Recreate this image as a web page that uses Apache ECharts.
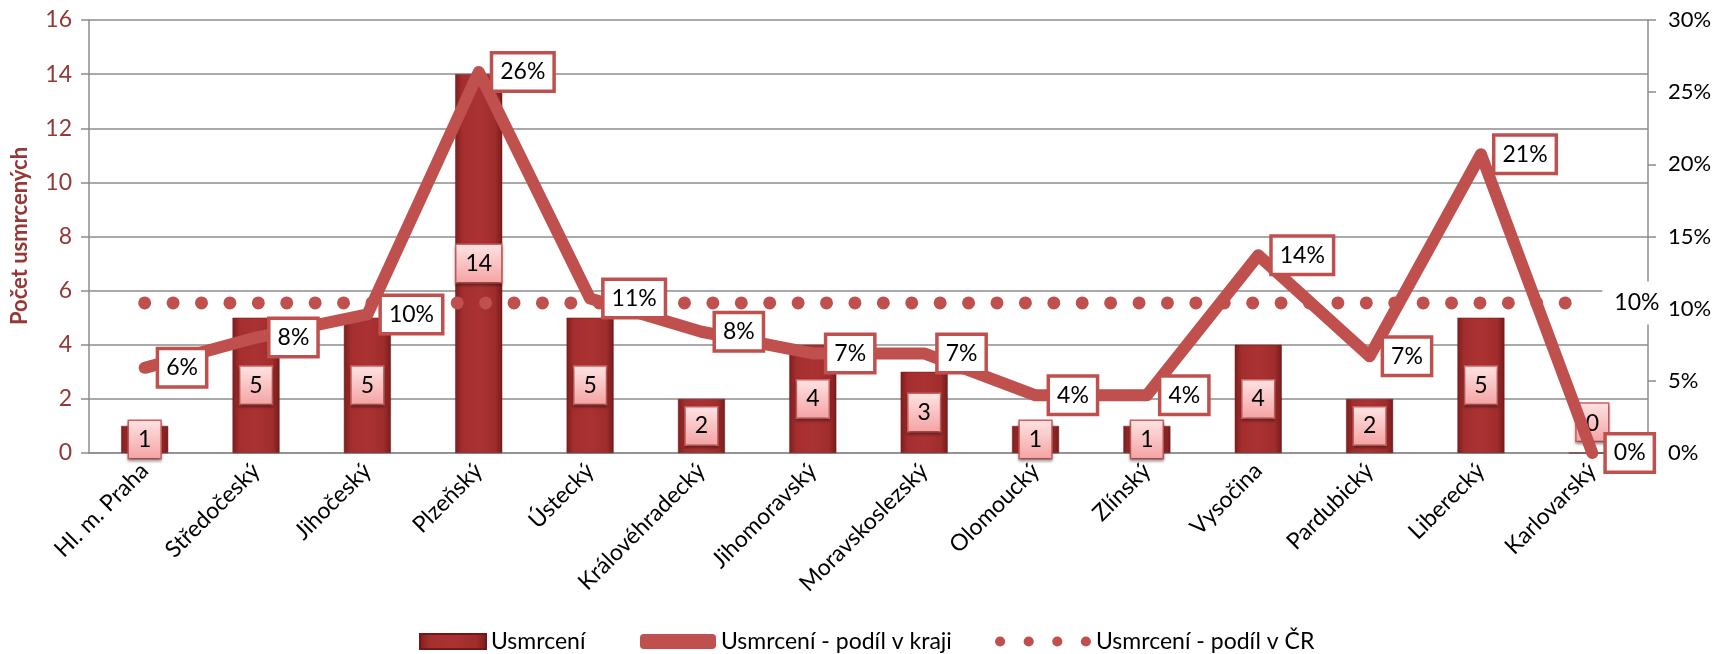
<!DOCTYPE html>
<html>
<head>
<meta charset="utf-8">
<script src="https://cdn.jsdelivr.net/npm/echarts@6/dist/echarts.min.js"></script>
<style>
  html, body { margin: 0; padding: 0; background: #fff; }
  #chart { width: 1721px; height: 654px; }
</style>
</head>
<body>
<div id="chart"></div>
<script>
const regions = ['Hl. m. Praha', 'Středočeský', 'Jihočeský', 'Plzeňský', 'Ústecký', 'Královéhradecký',
  'Jihomoravský', 'Moravskoslezský', 'Olomoucký', 'Zlínský', 'Vysočina', 'Pardubický', 'Liberecký', 'Karlovarský'];
const deaths = [1, 5, 5, 14, 5, 2, 4, 3, 1, 1, 4, 2, 5, 0];
const shareInRegion = [0.059, 0.080, 0.096, 0.264, 0.107, 0.084, 0.069, 0.069, 0.040, 0.040, 0.137, 0.067, 0.207, 0];
const shareCR = [0.104, 0.104, 0.104, 0.104, 0.104, 0.104, 0.104, 0.104, 0.104, 0.104, 0.104, 0.104, 0.104, 0.104];

const FONT = 'Lato';
const RED = '#c0504d';
const GRID = '#8c8c8c';

const chart = echarts.init(document.getElementById('chart'));

const barColor = new echarts.graphic.LinearGradient(0, 0, 1, 0, [
  { offset: 0, color: '#7e1e1e' },
  { offset: 0.15, color: '#a42e2e' },
  { offset: 0.5, color: '#ab3232' },
  { offset: 0.85, color: '#a02c2c' },
  { offset: 1, color: '#761b1b' }
]);
const boxColor = new echarts.graphic.LinearGradient(0, 0, 0, 1, [
  { offset: 0, color: '#ffe4e4' },
  { offset: 1, color: '#f4a2a2' }
]);

// bar labels sit in the middle of the bar, the empty one is pushed above the axis
const barData = deaths.map(v => v === 0
  ? { value: v, label: { position: 'top', distance: 12 } }
  : v);

// only the last point of the national share carries its label
const lastIdx = shareCR.length - 1;
const crData = shareCR.map((v, i) => i === lastIdx
  ? { value: v, label: { show: true } }
  : v);

const pct = p => Math.round(p.value * 100) + '%';

// four dots for the dotted-line legend entry
const dotsIcon = 'path://M0,5a5,5 0 1,0 10,0a5,5 0 1,0 -10,0Z' +
  'M28,5a5,5 0 1,0 10,0a5,5 0 1,0 -10,0Z' +
  'M56,5a5,5 0 1,0 10,0a5,5 0 1,0 -10,0Z' +
  'M84,5a5,5 0 1,0 10,0a5,5 0 1,0 -10,0Z';

const legendText = { fontSize: 23, color: '#000', fontFamily: FONT };

chart.setOption({
  animation: false,
  textStyle: { fontFamily: FONT },
  grid: { left: 89, right: 73, top: 20, bottom: 201 },
  // axis title, centred on the plot height
  graphic: [{
    type: 'text',
    x: 20,
    y: 236,
    rotation: Math.PI / 2,
    style: {
      text: 'Počet usmrcených',
      fontSize: 22,
      fontWeight: 'bold',
      fontFamily: FONT,
      fill: '#953735',
      align: 'center',
      textAlign: 'center',
      verticalAlign: 'middle',
      textVerticalAlign: 'middle'
    }
  }],
  legend: [{
    top: 625, left: 414,
    itemWidth: 66, itemHeight: 15,
    textStyle: legendText,
    data: [{ name: 'Usmrcení', icon: 'rect' }]
  }, {
    top: 625, left: 635,
    itemWidth: 76, itemHeight: 15,
    textStyle: legendText,
    data: [{ name: 'Usmrcení - podíl v kraji', icon: 'roundRect', itemStyle: { color: RED } }]
  }, {
    top: 625, left: 990,
    itemWidth: 96, itemHeight: 15,
    textStyle: legendText,
    data: [{ name: 'Usmrcení - podíl v ČR', icon: dotsIcon, itemStyle: { color: RED } }]
  }],
  xAxis: {
    type: 'category',
    data: regions,
    axisLine: { lineStyle: { color: GRID, width: 1.5 } },
    axisTick: { show: false },
    axisLabel: {
      rotate: 45,
      interval: 0,
      fontSize: 23,
      color: '#000',
      margin: 14,
      fontFamily: FONT
    }
  },
  yAxis: [{
    type: 'value',
    min: 0,
    max: 16,
    interval: 2,
    axisLine: { show: true, lineStyle: { color: GRID, width: 1.5 } },
    axisTick: { show: true, length: 8, lineStyle: { color: GRID, width: 1.5 } },
    axisLabel: { fontSize: 23, color: '#953735', margin: 17, fontFamily: FONT },
    splitLine: { lineStyle: { color: GRID, width: 1.5 } }
  }, {
    type: 'value',
    min: 0,
    max: 0.3,
    interval: 0.05,
    position: 'right',
    axisLine: { show: true, lineStyle: { color: GRID, width: 1.5 } },
    axisTick: { show: true, length: 8, lineStyle: { color: GRID, width: 1.5 } },
    axisLabel: {
      fontSize: 22, color: '#000', margin: 20, fontFamily: FONT,
      formatter: v => Math.round(v * 100) + '%'
    },
    splitLine: { show: false }
  }],
  series: [{
    name: 'Usmrcení',
    type: 'bar',
    data: barData,
    barWidth: 47,
    z: 2,
    itemStyle: {
      color: barColor,
      borderColor: '#6e1818',
      borderWidth: 0.5
    },
    label: {
      show: true,
      position: 'inside',
      fontSize: 23,
      color: '#000',
      fontFamily: FONT,
      backgroundColor: boxColor,
      borderColor: '#d06060',
      borderWidth: 1.5,
      padding: [8, 9, 6, 9],
      shadowColor: 'rgba(0,0,0,0.35)',
      shadowBlur: 3,
      shadowOffsetY: 2
    }
  }, {
    name: 'Usmrcení - podíl v ČR',
    type: 'line',
    yAxisIndex: 1,
    data: crData,
    symbol: 'circle',
    symbolSize: 0.1,
    showSymbol: true,
    z: 3,
    lineStyle: { color: RED, width: 13, type: [0.01, 28.4], cap: 'round' },
    itemStyle: { color: RED },
    label: {
      show: false,
      position: 'right',
      distance: 10,
      fontSize: 23,
      color: '#000',
      fontFamily: FONT,
      backgroundColor: '#fff',
      padding: [10, 6, 10, 12],
      formatter: pct
    }
  }, {
    name: 'Usmrcení - podíl v kraji',
    type: 'line',
    yAxisIndex: 1,
    data: shareInRegion,
    symbol: 'circle',
    symbolSize: 1,
    showSymbol: true,
    z: 4,
    lineStyle: { color: RED, width: 12, cap: 'round', join: 'round' },
    itemStyle: { color: RED },
    label: {
      show: true,
      position: 'right',
      distance: 14,
      fontSize: 23,
      color: '#000',
      fontFamily: FONT,
      backgroundColor: '#fff',
      borderColor: RED,
      borderWidth: 3.5,
      padding: [7, 7, 5, 7],
      formatter: pct
    }
  }]
});
</script>
</body>
</html>
